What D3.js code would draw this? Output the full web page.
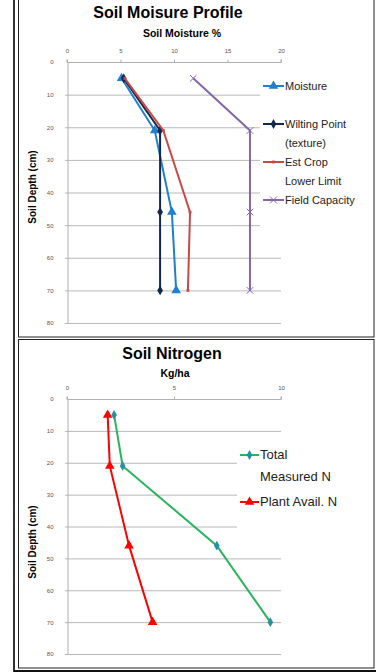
<!DOCTYPE html>
<html>
<head>
<meta charset="utf-8">
<script src="https://cdn.jsdelivr.net/npm/d3@7"></script>
<style>
  html, body { margin: 0; padding: 0; background: #fff; }
  svg { display: block; font-family: "Liberation Sans", Arial, sans-serif; }
</style>
</head>
<body>
<svg id="chart" width="376" height="672"></svg>
<script>
// Sample depths (cm)
const depths = [5, 21, 46, 70];

// Soil moisture profile (%)
const moisture      = [5.1, 8.2, 9.8, 10.2];
const wiltingPoint  = [5.3, 8.7, 8.7, 8.7];
const cropLowerLim  = [5.4, 9.0, 11.5, 11.3];
const fieldCapacity = [11.8, 17.1, 17.1, 17.1];

// Soil nitrogen (kg/ha)
const totalN = [2.2, 2.6, 7.0, 9.5];
const availN = [1.9, 2.0, 2.9, 4.0];

// Axis ticks
const moistTicks = [0, 5, 10, 15, 20];
const nTicks = [0, 5, 10];
const depthTicks = [0, 10, 20, 30, 40, 50, 60, 70, 80];

const svg = d3.select("#chart");

// Sheet frame
svg.append("line").attr("x1", 14).attr("x2", 14).attr("y1", 0).attr("y2", 672)
  .attr("stroke", "#333").attr("stroke-width", 2);
svg.append("line").attr("x1", 14).attr("x2", 376).attr("y1", 671).attr("y2", 671)
  .attr("stroke", "#111").attr("stroke-width", 2);
svg.append("rect").attr("x", 18.5).attr("y", -2).attr("width", 355.5).attr("height", 339)
  .attr("fill", "none").attr("stroke", "#222").attr("stroke-width", 1);
svg.append("rect").attr("x", 18.5).attr("y", 339.5).attr("width", 355.5).attr("height", 328.5)
  .attr("fill", "none").attr("stroke", "#222").attr("stroke-width", 1);

// Marker shapes
const sym = {
  triangle: d3.symbol().type(d3.symbolTriangle),
  diamond: d3.symbol().type(d3.symbolDiamond),
  square: d3.symbol().type(d3.symbolSquare),
  cross: d3.symbol().type(d3.symbolX)
};

function drawPanel(cfg) {
  const g = svg.append("g");
  const x = d3.scaleLinear().domain(cfg.xDomain).range([67, 281]);
  const y = d3.scaleLinear().domain([0, 80]).range(cfg.yRange);

  // titles
  g.append("text").attr("x", cfg.titleX).attr("y", cfg.titleY)
    .attr("text-anchor", "middle").attr("font-size", 16).attr("font-weight", "bold")
    .text(cfg.title);
  g.append("text").attr("x", cfg.subX).attr("y", cfg.subY)
    .attr("text-anchor", "middle").attr("font-size", 10.5).attr("font-weight", "bold")
    .text(cfg.sub);
  g.append("text")
    .attr("transform", `translate(36,${cfg.yTitleY}) rotate(-90)`)
    .attr("text-anchor", "middle").attr("font-size", 10).attr("font-weight", "bold")
    .text("Soil Depth (cm)");

  // horizontal gridlines (legend box clips some)
  g.append("g").selectAll("line").data(depthTicks.slice(1)).join("line")
    .attr("x1", 65).attr("x2", d => cfg.shortGrid.includes(d) ? cfg.legendLeft : 281)
    .attr("y1", d => y(d) + 0.5).attr("y2", d => y(d) + 0.5)
    .attr("stroke", "#b8b8b8").attr("stroke-width", 1);

  // top axis
  const top = d3.axisTop(x).tickValues(cfg.xTicks).tickSize(3).tickPadding(7)
    .tickFormat(d3.format("d"));
  const ga = g.append("g").attr("transform", `translate(0,${y(0) + 0.5})`).call(top);
  ga.selectAll("path,line").attr("stroke", "#b0b0b0");
  ga.select(".domain").attr("d", `M67,-3V0H281V-3`);
  ga.selectAll("text").attr("fill", "#555").attr("font-size", 6)
    .attr("font-family", "Liberation Sans, Arial, sans-serif");

  // left axis
  const left = d3.axisLeft(y).tickValues(depthTicks).tickSize(0).tickPadding(14)
    .tickFormat(d3.format("d"));
  const gl = g.append("g").attr("transform", "translate(67.5,0)").call(left);
  gl.select(".domain").attr("stroke", "#b0b0b0");
  gl.selectAll("text").attr("fill", "#555").attr("font-size", 6)
    .attr("font-family", "Liberation Sans, Arial, sans-serif");

  // series
  const line = d3.line().x(d => x(d[0])).y(d => y(d[1]));
  cfg.series.forEach(s => {
    const pts = s.values.map((v, i) => [v, depths[i]]);
    g.append("path").datum(pts).attr("d", line).attr("fill", "none")
      .attr("stroke", s.color).attr("stroke-width", 2);
    g.append("g").selectAll("path").data(pts).join("path")
      .attr("transform", d => `translate(${x(d[0])},${y(d[1])})`)
      .attr("d", sym[s.marker].size(s.msize)())
      .attr("fill", s.mfill || s.color)
      .attr("stroke", s.marker === "cross" ? (s.mfill || s.color) : "none")
      .attr("stroke-width", 1);
  });

  // legend
  const lg = g.append("g");
  cfg.series.forEach(s => {
    const ly = s.legendY;
    lg.append("line").attr("x1", cfg.legendX).attr("x2", cfg.legendX + cfg.legendLen)
      .attr("y1", ly).attr("y2", ly).attr("stroke", s.color).attr("stroke-width", 2);
    lg.append("path")
      .attr("transform", `translate(${cfg.legendX + cfg.legendLen / 2},${ly})`)
      .attr("d", sym[s.marker].size(s.msize)())
      .attr("fill", s.mfill || s.color)
      .attr("stroke", s.marker === "cross" ? (s.mfill || s.color) : "none");
    s.label.forEach((t, i) => {
      lg.append("text").attr("x", cfg.legendX + cfg.legendLen + 1)
        .attr("y", ly + 4 + i * cfg.legendLine)
        .attr("font-size", cfg.legendFont).attr("fill", "#222").text(t);
    });
  });
}

drawPanel({
  title: "Soil Moisure Profile", titleX: 168, titleY: 18,
  sub: "Soil Moisture %", subX: 182, subY: 37,
  yTitleY: 187,
  xDomain: [0, 20], xTicks: moistTicks, yRange: [62, 323],
  shortGrid: [10, 20, 30, 40, 50], legendLeft: 260,
  legendX: 263, legendLen: 21, legendFont: 11, legendLine: 19,
  series: [
    { values: moisture, color: "#1f7fd0", marker: "triangle", msize: 40, label: ["Moisture"], legendY: 86 },
    { values: wiltingPoint, color: "#14284b", marker: "diamond", msize: 28, label: ["Wilting Point", "(texture)"], legendY: 124 },
    { values: cropLowerLim, color: "#c84a47", marker: "square", msize: 8, label: ["Est Crop", "Lower Limit"], legendY: 162 },
    { values: fieldCapacity, color: "#8466ad", marker: "cross", msize: 30, label: ["Field Capacity"], legendY: 200 }
  ]
});

drawPanel({
  title: "Soil Nitrogen", titleX: 172, titleY: 359,
  sub: "Kg/ha", subX: 175, subY: 377,
  yTitleY: 542,
  xDomain: [0, 10], xTicks: nTicks, yRange: [399, 654],
  shortGrid: [20, 30, 40], legendLeft: 237,
  legendX: 240, legendLen: 19, legendFont: 13, legendLine: 22,
  series: [
    { values: totalN, color: "#2bb35e", marker: "diamond", msize: 28, mfill: "#2a8fa0", label: ["Total", "Measured N"], legendY: 455 },
    { values: availN, color: "#ff0000", marker: "triangle", msize: 40, label: ["Plant Avail. N"], legendY: 502 }
  ]
});
</script>
</body>
</html>
